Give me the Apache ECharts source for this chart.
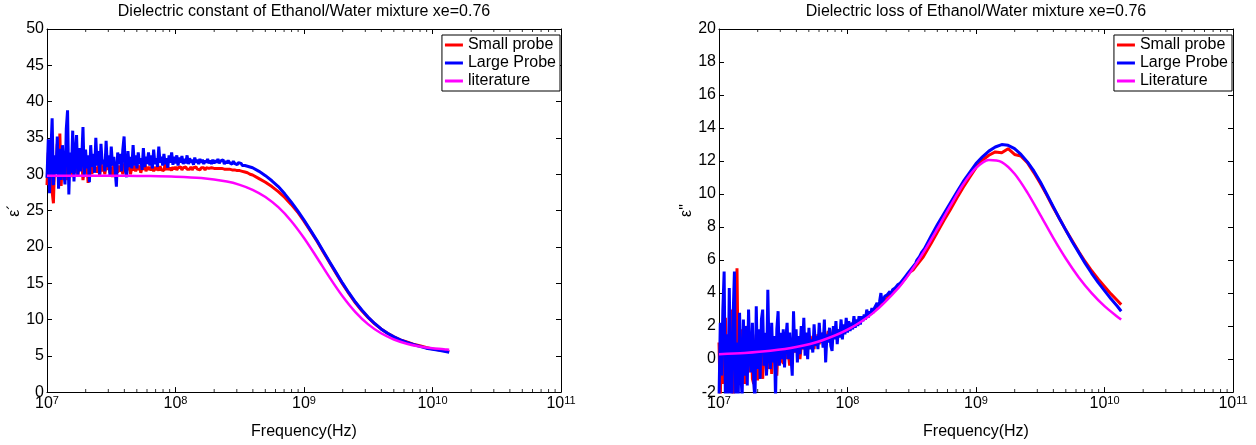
<!DOCTYPE html>
<html>
<head>
<meta charset="utf-8">
<script src="https://cdn.jsdelivr.net/npm/echarts@6/dist/echarts.min.js"></script>
<style>html,body{margin:0;padding:0;background:#fff}#c{width:1256px;height:445px}</style>
</head>
<body>
<div id="c"></div>
<script>
// log10 of measured frequencies (Hz)
const freqExp = [
7.00,7.01,7.02,7.03,7.04,7.05,7.06,7.07,7.08,7.09,7.10,7.11,7.12,7.13,7.14,7.15,7.16,7.17,7.18,7.19,
7.20,7.21,7.22,7.23,7.24,7.25,7.26,7.27,7.28,7.29,7.30,7.31,7.32,7.33,7.34,7.35,7.36,7.37,7.38,7.39,
7.40,7.41,7.42,7.43,7.44,7.45,7.46,7.47,7.48,7.49,7.50,7.51,7.52,7.53,7.54,7.55,7.56,7.57,7.58,7.59,
7.60,7.61,7.62,7.63,7.64,7.65,7.66,7.67,7.68,7.69,7.70,7.71,7.72,7.73,7.74,7.75,7.76,7.77,7.78,7.79,
7.80,7.81,7.82,7.83,7.84,7.85,7.86,7.87,7.88,7.89,7.90,7.91,7.92,7.93,7.94,7.95,7.96,7.97,7.98,7.99,
8.00,8.01,8.02,8.03,8.04,8.05,8.06,8.07,8.08,8.09,8.10,8.11,8.12,8.13,8.14,8.15,8.16,8.17,8.18,8.19,
8.20,8.21,8.22,8.23,8.24,8.25,8.26,8.27,8.28,8.29,8.30,8.31,8.32,8.33,8.34,8.35,8.36,8.37,8.38,8.39,
8.40,8.41,8.42,8.43,8.44,8.45,8.46,8.47,8.48,8.49,8.50,8.51,8.52,8.53,8.54,8.55,8.56,8.57,8.58,8.59,
8.60,
8.65,8.70,8.75,8.80,8.85,8.90,8.95,9.00,9.05,9.10,9.15,9.20,9.25,9.30,9.35,9.40,9.45,9.50,9.55,9.60,
9.65,9.70,9.75,9.80,9.85,9.90,9.95,10.00,10.05,10.10,10.13];

// Dielectric constant, small probe
const epsSmall = [
28.5,33.0,29.5,31.8,27.6,26.0,32.0,30.2,34.2,29.0, 35.6,28.4,31.6,29.6,32.4,30.0,29.2,31.8,30.4,32.6,
29.6,31.4,30.2,31.8,29.8,31.2,30.6,32.0,29.2,31.0, 30.2,31.6,28.8,30.8,31.4,30.0,32.0,30.4,31.0,30.2,
31.2,29.8,31.6,30.4,31.0,30.0,31.4,30.6,31.2,30.2, 31.0,29.6,31.4,30.4,31.0,30.2,31.2,30.4,30.8,30.0,
31.5,30.3,31.0,30.6,31.2,30.0,31.0,30.5,31.2,30.4, 31.0,30.6,31.2,30.2,30.9,30.6,32.0,30.4,31.0,30.6,
31.0,30.5,31.2,30.4,31.0,30.6,30.9,30.5,31.1,30.6, 30.8,30.5,31.6,30.6,31.0,30.6,30.9,30.5,31.0,30.7,
31.0,30.6,30.9,30.7,31.0,30.6,30.9,30.7,31.0,30.7, 30.9,30.7,31.0,30.6,30.9,30.7,31.0,30.7,30.9,30.6,
30.9,30.7,30.9,30.6,30.9,30.7,30.8,30.6,30.9,30.7, 30.8,30.6,30.8,30.7,30.8,30.6,30.8,30.6,30.7,30.5,
30.7,30.6,30.7,30.5,30.6,30.5,30.6,30.4,30.5,30.4, 30.5,30.4,30.4,30.3,30.3,30.2,30.2,30.1,30.0,30.0,
29.9,
29.4,28.9,28.3,27.6,26.8,25.85,24.8,23.55,22.2,20.8,19.3,17.8,16.35,14.9,13.55,12.3,11.2,10.25,9.4,8.7,
8.1,7.6,7.2,6.9,6.6,6.4,6.15,5.95,5.8,5.7,5.6];
// Dielectric constant, large probe
const epsLarge = [
29.5,34.8,27.4,33.0,37.7,28.5,32.6,30.0,35.2,28.0, 33.5,29.2,34.0,30.5,28.6,36.2,38.8,27.2,33.0,30.2,
36.0,29.0,32.8,35.4,29.8,33.6,30.4,32.0,36.5,29.6, 33.4,30.8,32.6,28.9,34.0,31.0,32.8,30.2,35.0,31.2,
33.2,30.0,34.2,31.4,32.0,30.4,34.6,31.0,32.6,29.8, 33.8,31.2,32.4,30.6,28.3,33.0,31.4,32.8,30.4,33.4,
35.2,30.6,29.6,33.2,31.0,32.4,30.8,34.0,31.2,32.6, 30.8,33.0,31.4,32.2,30.6,33.6,31.0,32.4,31.4,33.0,
31.2,32.6,30.8,33.4,31.4,32.2,31.0,33.8,31.6,32.4, 31.2,32.8,31.4,32.2,30.9,32.6,31.6,33.0,31.3,32.4,
31.5,32.6,31.2,32.3,31.6,32.5,31.4,32.1,31.5,32.6, 31.4,32.2,31.6,32.0,31.3,32.3,31.6,32.0,31.4,32.1,
31.6,32.0,31.4,31.9,31.6,32.1,31.5,31.9,31.4,32.0, 31.5,31.9,31.6,32.1,31.5,31.8,31.6,32.0,31.4,31.8,
31.5,31.9,31.6,31.7,31.4,31.8,31.5,31.6,31.3,31.6, 31.4,31.5,31.2,31.4,31.2,31.3,31.1,31.2,31.0,31.1,
30.9,
30.4,29.8,29.1,28.3,27.3,26.2,25.0,23.7,22.3,20.9,19.4,17.9,16.45,15.0,13.65,12.4,11.3,10.3,9.45,8.7,
8.1,7.6,7.2,6.85,6.55,6.3,6.05,5.9,5.75,5.6,5.5];
// Dielectric loss, small probe
const lossSmall = [
1.0,-2.5,2.0,-1.5,0.5,2.5,-2.0,0.0,-1.8,1.2, 3.0,-2.8,0.5,-1.5,5.5,-1.0,0.8,1.8,-1.5,0.6,
-1.5,1.5,2.0,-0.8,0.4,1.2,-1.2,-1.5,0.6,1.5, -1.3,0.8,-0.6,0.8,-1.2,0.6,1.4,-0.8,0.4,-0.6,
1.0,-0.9,0.6,1.2,-0.4,-1.0,0.8,0.2,-0.2,1.1, -0.3,0.8,0.0,1.0,0.3,-0.4,1.0,0.2,0.8,0.4,
1.1,0.4,1.2,0.0,0.8,0.6,1.2,0.8,0.4,1.3, 0.8,1.2,0.9,1.4,0.6,1.3,1.0,1.5,0.9,1.4,
1.2,1.6,1.0,1.5,1.3,1.7,1.2,1.6,1.4,1.8, 1.5,1.7,1.4,1.8,1.6,1.9,1.6,2.0,1.7,2.0,
1.8,2.0,1.9,2.1,2.0,2.2,2.1,2.2,2.2,2.3, 2.3,2.4,2.4,2.5,2.5,2.6,2.6,2.7,2.8,2.8,
2.9,3.0,3.0,3.1,3.2,3.3,3.3,3.4,3.5,3.6, 3.6,3.7,3.8,3.9,4.0,4.0,4.1,4.2,4.3,4.4,
4.4,4.5,4.6,4.7,4.8,4.9,5.0,5.1,5.2,5.3, 5.3,5.4,5.5,5.6,5.7,5.8,5.9,6.0,6.1,6.2,
6.3,
7.0,7.7,8.4,9.05,9.75,10.4,11.0,11.6,12.05,12.35,12.55,12.5,12.75,12.4,12.3,11.9,11.3,10.65,9.95,9.2,
8.5,7.8,7.15,6.5,5.9,5.35,4.85,4.4,3.95,3.55,3.3];
// Dielectric loss, large probe
const lossLarge = [
-2.5,2.2,-1.0,3.0,5.3,-2.6,1.5,-2.4,4.3,-1.2, -3.0,2.6,5.3,-2.5,1.0,-2.2,2.8,-0.8,-2.4,2.4,
-1.0,2.0,-1.6,3.0,0.2,-0.8,2.2,-1.4,-2.5,3.2, -0.6,1.8,-1.2,2.4,3.0,-0.4,1.6,-1.0,4.2,0.2,
-0.6,2.2,-0.2,1.4,-2.4,1.8,2.9,-0.4,1.6,0.0, 1.8,-0.5,1.2,2.2,0.0,1.6,0.2,-1.0,2.9,0.4,
1.8,-0.2,1.4,0.3,2.0,0.6,2.5,0.2,1.6,0.0, 1.9,0.6,1.2,0.4,2.1,0.8,1.4,0.6,2.2,1.0,
1.6,0.7,2.4,-0.2,1.5,1.0,1.9,0.8,0.5,2.0, 1.2,2.3,0.9,1.8,1.3,2.4,1.2,2.1,1.5,2.5,
1.6,2.3,1.7,2.2,1.8,2.6,1.9,2.4,2.0,2.6, 2.1,2.6,2.3,2.7,2.4,3.0,2.5,2.9,2.7,3.1,
2.8,3.1,3.0,3.4,3.1,3.5,4.0,3.4,3.6,3.8, 3.7,3.9,3.8,4.1,3.9,4.2,4.1,4.3,4.2,4.5,
4.4,4.6,4.6,4.8,4.8,5.0,5.0,5.2,5.3,5.4, 5.5,5.6,5.7,5.8,6.0,6.1,6.2,6.3,6.5,6.6,
6.7,
7.45,8.15,8.8,9.45,10.1,10.75,11.3,11.85,12.25,12.6,12.85,13.0,12.95,12.75,12.4,11.95,11.4,10.75,10.0,9.25,
8.5,7.8,7.1,6.45,5.8,5.2,4.65,4.15,3.65,3.2,2.9];

// literature values (log10 of frequency)
const litExp = [7.0,7.2,7.4,7.6,7.8,8.0,8.2,8.4,8.5,8.6,8.7,8.8,8.9,9.0,9.1,9.2,9.3,9.4,9.5,9.6,9.7,9.8,9.9,10.0,10.1,10.13];
const litEps = [29.8,29.8,29.79,29.78,29.75,29.67,29.47,28.99,28.54,27.86,26.87,25.46,23.57,21.22,18.54,15.77,13.2,11.02,9.33,8.1,7.24,6.66,6.28,6.03,5.88,5.84];
const litLoss = [0.3,0.37,0.5,0.73,1.13,1.78,2.8,4.35,5.38,6.57,7.9,9.28,10.58,11.58,12.07,11.94,11.23,10.09,8.74,7.36,6.08,4.95,4.0,3.21,2.57,2.4];

const titles = ['Dielectric constant of Ethanol/Water mixture xe=0.76','Dielectric loss of Ethanol/Water mixture xe=0.76'];
const yNames = ['\u03b5\u00b4','\u03b5"'];
const legendNames = [['Small probe','Large Probe','literature'],['Small probe','Large Probe','Literature']];
const yRange = [[0,50,5],[-2,20,2]];

const FONT = "'Liberation Sans', Arial, sans-serif";
const pair = (ex, vals) => ex.map((e, i) => [Math.pow(10, e), vals[i]]);
const minorTicks = [];
for (let n = 7; n < 11; n++) for (let k = 2; k <= 9; k++) minorTicks.push(k * Math.pow(10, n));

const grids = [{left:47, top:29, width:514, height:368},{left:719, top:29, width:514, height:368}];
const xAxes = [], yAxes = [], series = [], legends = [], titleArr = [];
const measured = [[epsSmall, epsLarge, litEps],[lossSmall, lossLarge, litLoss]];
const colors = ['#ff0000','#0000ff','#ff00ff'];
const widths = [3, 3, 2.5];

grids.forEach((g, i) => {
  const cx = g.left + g.width / 2;
  titleArr.push({text: titles[i], left: cx, top: 4, textAlign: 'center', padding: 0,
    textStyle: {fontFamily: FONT, fontSize: 16, fontWeight: 'normal', color: '#000'}});
  const xBase = {type:'log', logBase:10, min:1e7, max:1e11, gridIndex:i,
    axisLine:{show:true, onZero:false, lineStyle:{color:'#000', width:1}},
    axisTick:{show:true, inside:true, length:5, lineStyle:{color:'#000'}},
    splitLine:{show:false}, minorTick:{show:false}, minorSplitLine:{show:false}};
  xAxes.push(Object.assign({}, xBase, {position:'bottom',
    name:'Frequency(Hz)', nameLocation:'middle', nameGap:28,
    nameTextStyle:{fontFamily:FONT, fontSize:16, color:'#000'},
    axisLabel:{show:true, margin:3, color:'#000', fontFamily:FONT,
      formatter: v => '{b|10}{e|' + Math.round(Math.log10(v)) + '}',
      rich:{b:{fontSize:16, fontFamily:FONT, color:'#000', lineHeight:16, verticalAlign:'bottom'},
            e:{fontSize:11, fontFamily:FONT, color:'#000', lineHeight:12, verticalAlign:'top', padding:[0,0,13,0]}}}}));
  xAxes.push(Object.assign({}, xBase, {position:'top', axisLabel:{show:false}}));
  const [ymin, ymax, yint] = yRange[i];
  const yBase = {type:'value', min:ymin, max:ymax, interval:yint, gridIndex:i,
    axisLine:{show:true, onZero:false, lineStyle:{color:'#000', width:1}},
    axisTick:{show:true, inside:true, length:5, lineStyle:{color:'#000'}},
    splitLine:{show:false}};
  yAxes.push(Object.assign({}, yBase, {position:'left', name:yNames[i], nameLocation:'middle',
    nameGap: i === 0 ? 19 : 22, nameRotate:90,
    nameTextStyle:{fontFamily:FONT, fontSize:16, color:'#000'},
    axisLabel:{show:true, margin:3, color:'#000', fontFamily:FONT, fontSize:16}}));
  yAxes.push(Object.assign({}, yBase, {position:'right', axisLabel:{show:false}}));

  const xi = i * 2, yi = i * 2;
  const exps = [freqExp, freqExp, litExp];
  [0,1,2].forEach(s => {
    series.push({type:'line', name: legendNames[i][s], xAxisIndex:xi, yAxisIndex:yi,
      data: pair(exps[s], measured[i][s]), showSymbol:false, symbol:'none',
      smooth: s === 2 ? 0.3 : false, clip:true, animation:false,
      color: colors[s], lineStyle:{color:colors[s], width:widths[s]}, z: 2 + s});
  });
  // minor log ticks on the bottom and top edges
  series.push({type:'scatter', xAxisIndex:xi, yAxisIndex:yi, silent:true, clip:false, z:10,
    animation:false, symbol:'rect', symbolSize:[1,3], symbolOffset:[0,-1.5],
    itemStyle:{color:'#000'}, data: minorTicks.map(f => [f, ymin])});
  series.push({type:'scatter', xAxisIndex:xi, yAxisIndex:yi, silent:true, clip:false, z:10,
    animation:false, symbol:'rect', symbolSize:[1,3], symbolOffset:[0,1.5],
    itemStyle:{color:'#000'}, data: minorTicks.map(f => [f, ymax])});
  legends.push({data: legendNames[i], orient:'vertical', right: 1256 - (g.left + g.width) + 1, top: 35,
    backgroundColor:'#fff', borderColor:'#000', borderWidth:1, padding:[2,4,2,3],
    itemGap:2, itemWidth:18, itemHeight:3, itemTextGap:2, icon:'rect',
    textStyle:{fontFamily:FONT, fontSize:16, color:'#000'}, selectedMode:false});
});

const chart = echarts.init(document.getElementById('c'), null, {renderer:'canvas'});
chart.setOption({animation:false, backgroundColor:'#fff', title:titleArr, grid:grids,
  xAxis:xAxes, yAxis:yAxes, legend:legends, series:series});
</script>
</body>
</html>
